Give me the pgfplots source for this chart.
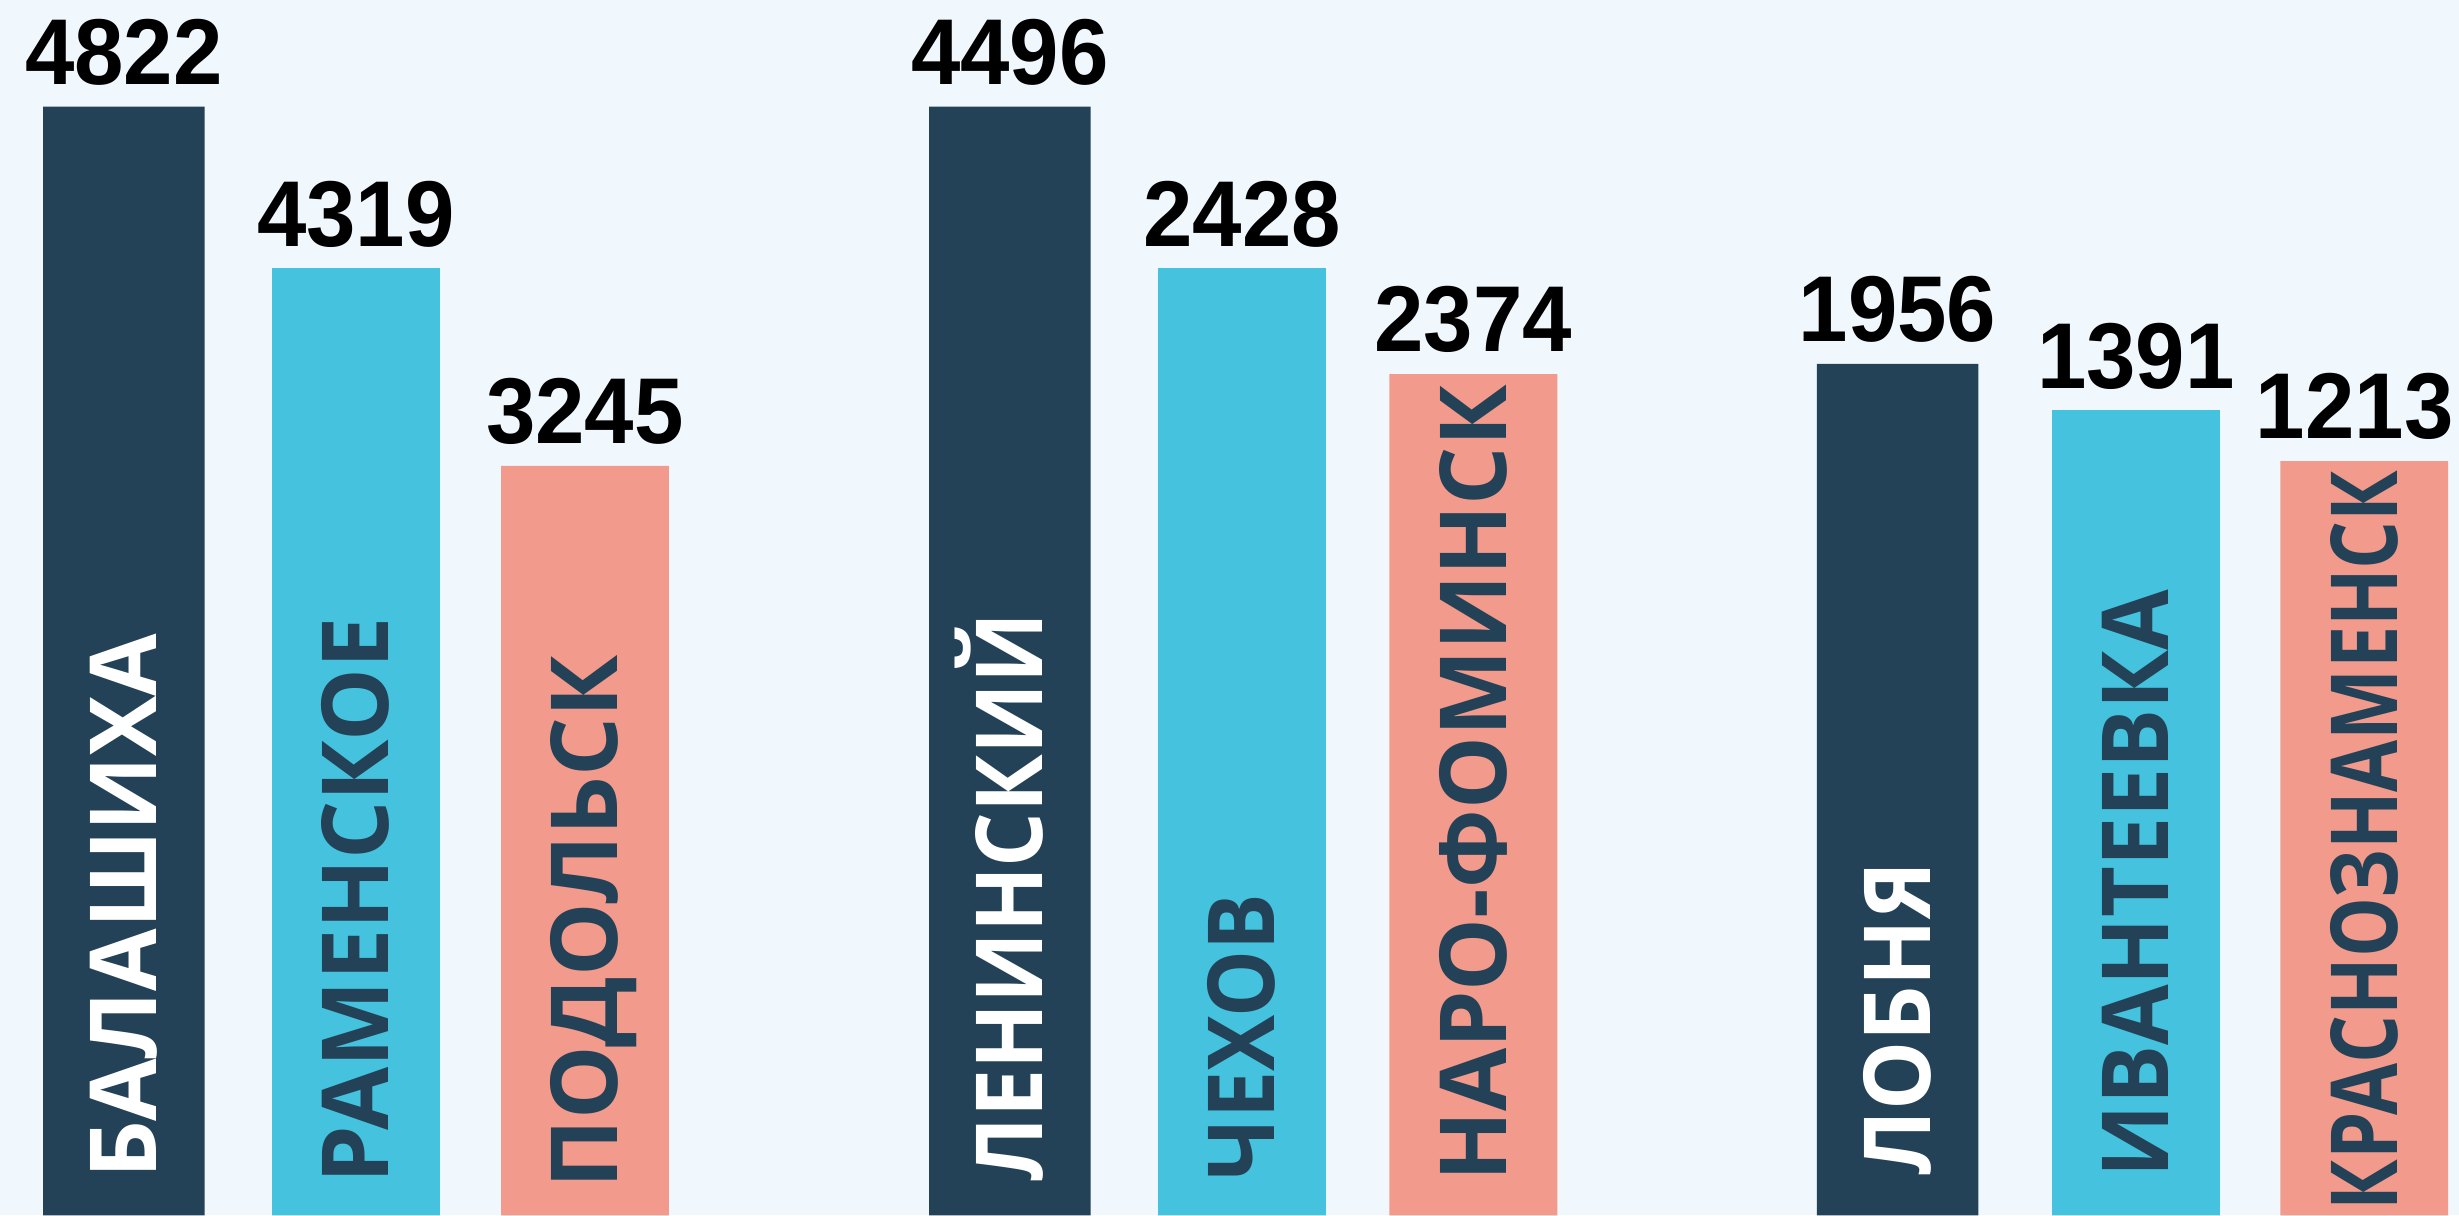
\documentclass[border=0pt]{standalone}
\usepackage{fontspec}
\setmainfont{Liberation Sans}
\newfontfamily\catfont{Open Sans}
\usepackage{pgfplots}
\usepackage{pgfplotstable}
\pgfplotsset{compat=1.18}
\definecolor{bg}{HTML}{F0F7FD}
\definecolor{navy}{HTML}{244257}
\definecolor{cyanbar}{HTML}{45C3DE}
\definecolor{salmon}{HTML}{F29A8B}

\pgfplotstableread{
x h val name y0 sx dx
79 707 4822 БАЛАШИХА 23 0.98 0
644 707 4496 ЛЕНИНСКИЙ 21 0.93 0
1210 543 1956 ЛОБНЯ 25 0.94 0
}\navytab
\pgfplotstableread{
x h val name y0 sx dx
227 604 4319 РАМЕНСКОЕ 20 0.99 0
792 604 2428 ЧЕХОВ 22 0.91 0
1362 513.5 1391 ИВАНТЕЕВКА 24 0.95 0
}\cyantab
\pgfplotstableread{
x h val name y0 sx dx
373 478 3245 ПОДОЛЬСК 17 1.0 0
939.5 536.5 2374 НАРО-ФОМИНСК 21 0.99 0
1507.5 481 1213 КРАСНОЗНАМЕНСК 3 0.815 -3
}\salmontab

\pgfplotsset{
  valbars/.style={ybar, bar shift=0pt, draw=none, fill=#1,
    point meta=explicit symbolic,
    visualization depends on={\thisrow{dx} \as \dx},
    nodes near coords={\scalebox{0.95}[1]{\pgfplotspointmeta}},
    nodes near coords style={anchor=south, inner sep=0pt, yshift=6.5pt, xshift=\dx pt, text=black,
      font=\bfseries\fontsize{29.8}{30}\selectfont}},
  catlabels/.style={draw=none, mark=none,
    point meta=explicit symbolic,
    visualization depends on={\thisrow{sx} \as \sx},
    nodes near coords={\scalebox{\sx}[1]{\pgfplotspointmeta}},
    nodes near coords style={rotate=90, anchor=west, inner sep=0pt,
      text height=21pt, text depth=0pt, text=#1,
      font=\catfont\bfseries\fontsize{29.5}{30}\selectfont}},
}

\begin{document}
\begin{tikzpicture}
\fill[bg] (0,0) rectangle (784pt,387.5pt);
\begin{axis}[scale only axis, width=784pt, height=387.5pt,
  xmin=0, xmax=1568, ymin=0, ymax=775, hide axis, clip=false]
\addplot[valbars=navy, bar width=103] table[x=x, y=h, meta=val] {\navytab};
\addplot[valbars=cyanbar, bar width=107] table[x=x, y=h, meta=val] {\cyantab};
\addplot[valbars=salmon, bar width=107] table[x=x, y=h, meta=val] {\salmontab};
\addplot[catlabels=white] table[x=x, y=y0, meta=name] {\navytab};
\addplot[catlabels=navy] table[x=x, y=y0, meta=name] {\cyantab};
\addplot[catlabels=navy] table[x=x, y=y0, meta=name] {\salmontab};
\end{axis}
\pgfresetboundingbox
\path[use as bounding box] (0,0) rectangle (784pt,387.5pt);
\end{tikzpicture}
\end{document}
